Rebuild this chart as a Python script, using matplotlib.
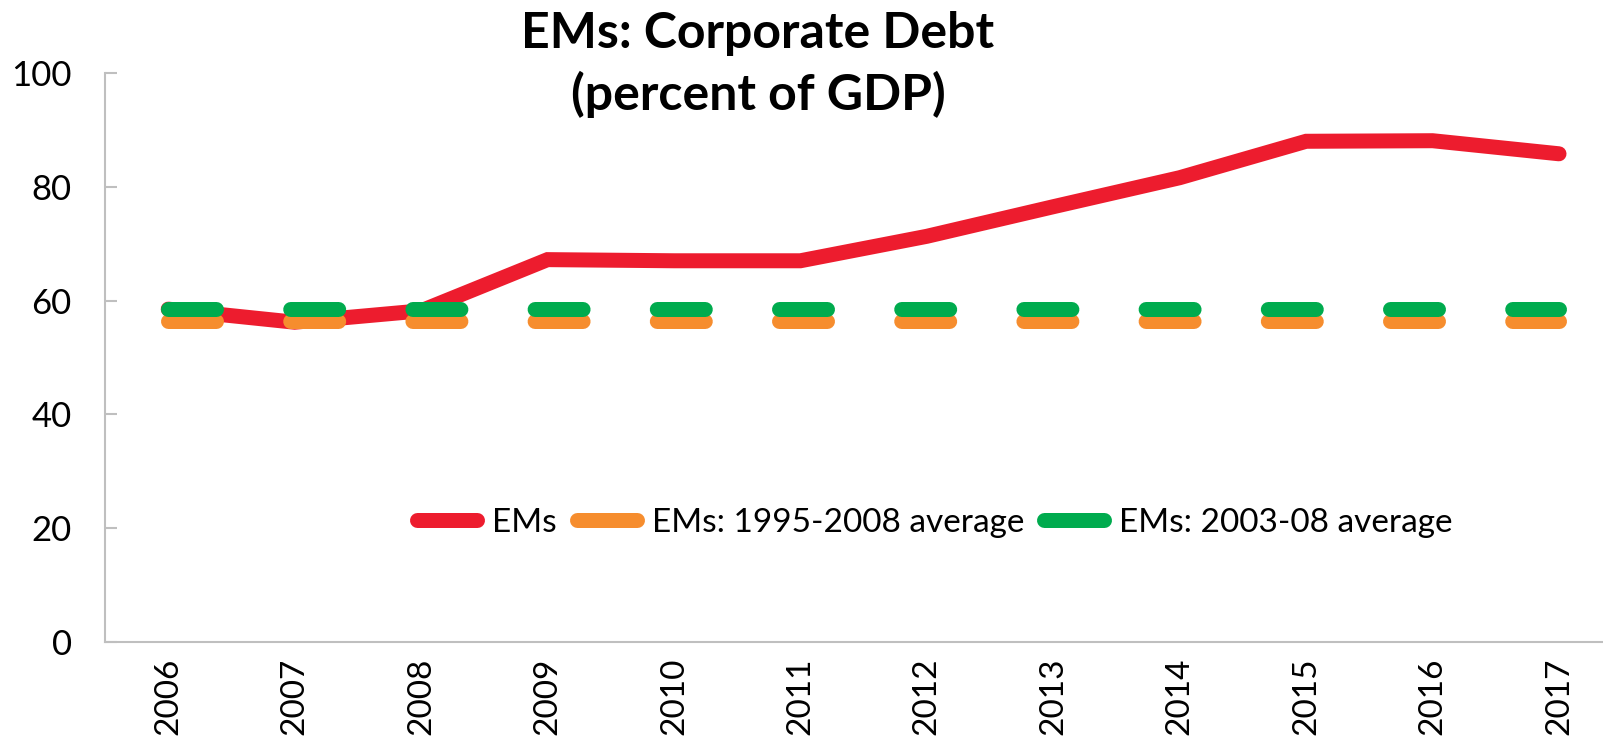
import matplotlib
matplotlib.use("Agg")
from matplotlib import pyplot as plt
from matplotlib.lines import Line2D
import numpy as np

years = ["2006", "2007", "2008", "2009", "2010", "2011",
         "2012", "2013", "2014", "2015", "2016", "2017"]
ems = [58.5, 56.2, 58.2, 67.2, 67.0, 67.0, 71.3, 76.5, 81.6, 88.0, 88.1, 85.8]
avg_1995_2008 = [56.4] * len(years)
avg_2003_08 = [58.6] * len(years)

RED = "#ED1C2E"
ORANGE = "#F68D2E"
GREEN = "#00AB4E"
AXIS_GREY = "#BFBFBF"

plt.rcParams["font.family"] = ["Lato", "DejaVu Sans"]

W, H, DPI = 1603, 741, 100
fig = plt.figure(figsize=(W / DPI, H / DPI), dpi=DPI)
ax = fig.add_axes([105 / W, 1 - 642 / H, 1 - 105 / W, 569 / H])

x = np.arange(len(years))
lw_px = 15
lw = lw_px * 72 / DPI
# dash pattern in units of line width (on length excludes round caps)
dash = (48 / lw_px, 74.2 / lw_px)

ax.plot(x, ems, color=RED, lw=lw, solid_capstyle="round",
        solid_joinstyle="miter", zorder=2)
ax.plot(x, avg_1995_2008, color=ORANGE, lw=lw, dashes=dash,
        dash_capstyle="round", zorder=3)
ax.plot(x, avg_2003_08, color=GREEN, lw=lw, dashes=dash,
        dash_capstyle="round", zorder=4)

ax.set_xlim(-0.5, 11 + 44 / 126.5)
ax.set_ylim(0, 100)
ax.set_yticks([0, 20, 40, 60, 80, 100])
ax.set_xticks(x)
ax.set_xticklabels(years, rotation=90, va="top")

for side in ["top", "right"]:
    ax.spines[side].set_visible(False)
for side in ["left", "bottom"]:
    ax.spines[side].set_color(AXIS_GREY)
    ax.spines[side].set_linewidth(1.5)

ax.tick_params(axis="y", direction="in", length=8.6, width=1.5,
               color=AXIS_GREY, labelsize=25, pad=24)
ax.tick_params(axis="x", length=0, labelsize=24, pad=11)
for t in ax.get_xticklabels() + ax.get_yticklabels():
    t.set_color("black")

handles = [
    Line2D([], [], color=RED, lw=lw, solid_capstyle="round"),
    Line2D([], [], color=ORANGE, lw=lw, solid_capstyle="round"),
    Line2D([], [], color=GREEN, lw=lw, solid_capstyle="round"),
]
labels = ["EMs", "EMs: 1995-2008 average", "EMs: 2003-08 average"]
ax.legend(handles, labels, ncol=3, frameon=False, fontsize=24,
          handlelength=1.8, handletextpad=0.45, columnspacing=0.6,
          loc="center", bbox_to_anchor=(935 / W, 1 - 523 / H),
          bbox_transform=fig.transFigure)

fig.text(758 / W, 1 - 33 / H, "EMs: Corporate Debt", ha="center", va="center",
         fontsize=36, fontweight="bold")
fig.text(758 / W, 1 - 94 / H, "(percent of GDP)", ha="center", va="center",
         fontsize=36, fontweight="bold")

fig.savefig("out.png", dpi=DPI)
